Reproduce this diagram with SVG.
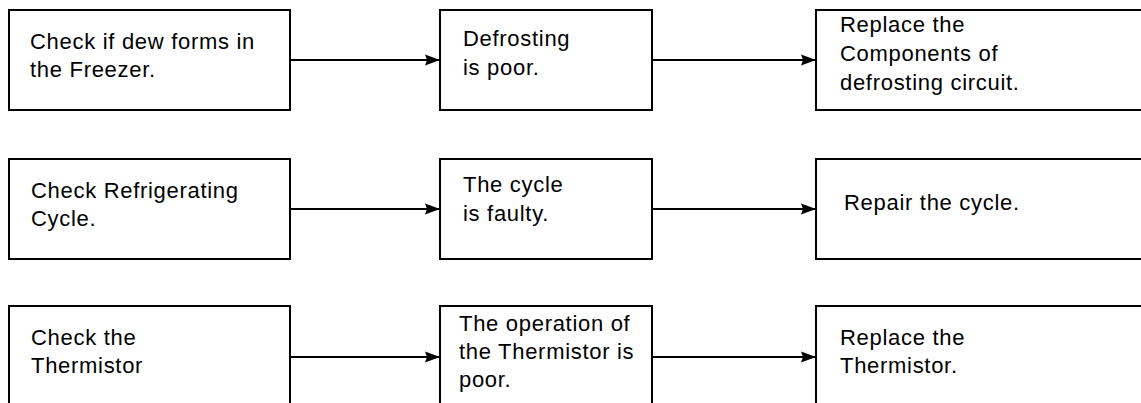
<svg xmlns="http://www.w3.org/2000/svg" width="1141" height="403" viewBox="0 0 1141 403">
<style>
.box{fill:#fff;stroke:#000;stroke-width:2}
.t{font-family:"Liberation Sans",Arial,sans-serif;font-size:22px;letter-spacing:0.7px;fill:#000}
.c{stroke:#000;stroke-width:2;fill:none}
</style>
<defs>
<marker id="ah" markerWidth="16" markerHeight="14" refX="15" refY="7" orient="auto" markerUnits="userSpaceOnUse">
<path d="M0,1.5 L15,7 L0,12.5 L2,7 Z" fill="#000"/>
</marker>
</defs>
<rect width="1141" height="403" fill="#fff"/>
<g id="connectors">
<line class="c" x1="290" y1="60" x2="440" y2="60" marker-end="url(#ah)"/>
<line class="c" x1="652" y1="60" x2="816" y2="60" marker-end="url(#ah)"/>
<line class="c" x1="290" y1="209" x2="440" y2="209" marker-end="url(#ah)"/>
<line class="c" x1="652" y1="209" x2="816" y2="209" marker-end="url(#ah)"/>
<line class="c" x1="290" y1="357" x2="440" y2="357" marker-end="url(#ah)"/>
<line class="c" x1="652" y1="357" x2="816" y2="357" marker-end="url(#ah)"/>
</g>
<g id="n1"><rect class="box" x="9" y="10" width="281" height="100"/>
<text class="t" x="30" y="49">Check if dew forms in</text><text class="t" x="30" y="77">the Freezer.</text></g>
<g id="n2"><rect class="box" x="440" y="10" width="212" height="100"/>
<text class="t" x="463" y="46">Defrosting</text><text class="t" x="463" y="75">is poor.</text></g>
<g id="n3"><rect class="box" x="816" y="10" width="340" height="100"/>
<text class="t" x="840" y="32">Replace the</text><text class="t" x="840" y="61">Components of</text><text class="t" x="840" y="90">defrosting circuit.</text></g>
<g id="n4"><rect class="box" x="9" y="159" width="281" height="100"/>
<text class="t" x="31" y="198">Check Refrigerating</text><text class="t" x="31" y="226">Cycle.</text></g>
<g id="n5"><rect class="box" x="440" y="159" width="212" height="100"/>
<text class="t" x="463" y="192">The cycle</text><text class="t" x="463" y="221">is faulty.</text></g>
<g id="n6"><rect class="box" x="816" y="159" width="340" height="100"/>
<text class="t" x="844" y="210">Repair the cycle.</text></g>
<g id="n7"><rect class="box" x="9" y="306" width="281" height="110"/>
<text class="t" x="31" y="345">Check the</text><text class="t" x="31" y="373">Thermistor</text></g>
<g id="n8"><rect class="box" x="440" y="306" width="212" height="110"/>
<text class="t" x="459" y="331">The operation of</text><text class="t" x="459" y="359">the Thermistor is</text><text class="t" x="459" y="387">poor.</text></g>
<g id="n9"><rect class="box" x="816" y="306" width="340" height="110"/>
<text class="t" x="840" y="345">Replace the</text><text class="t" x="840" y="373">Thermistor.</text></g>
</svg>
